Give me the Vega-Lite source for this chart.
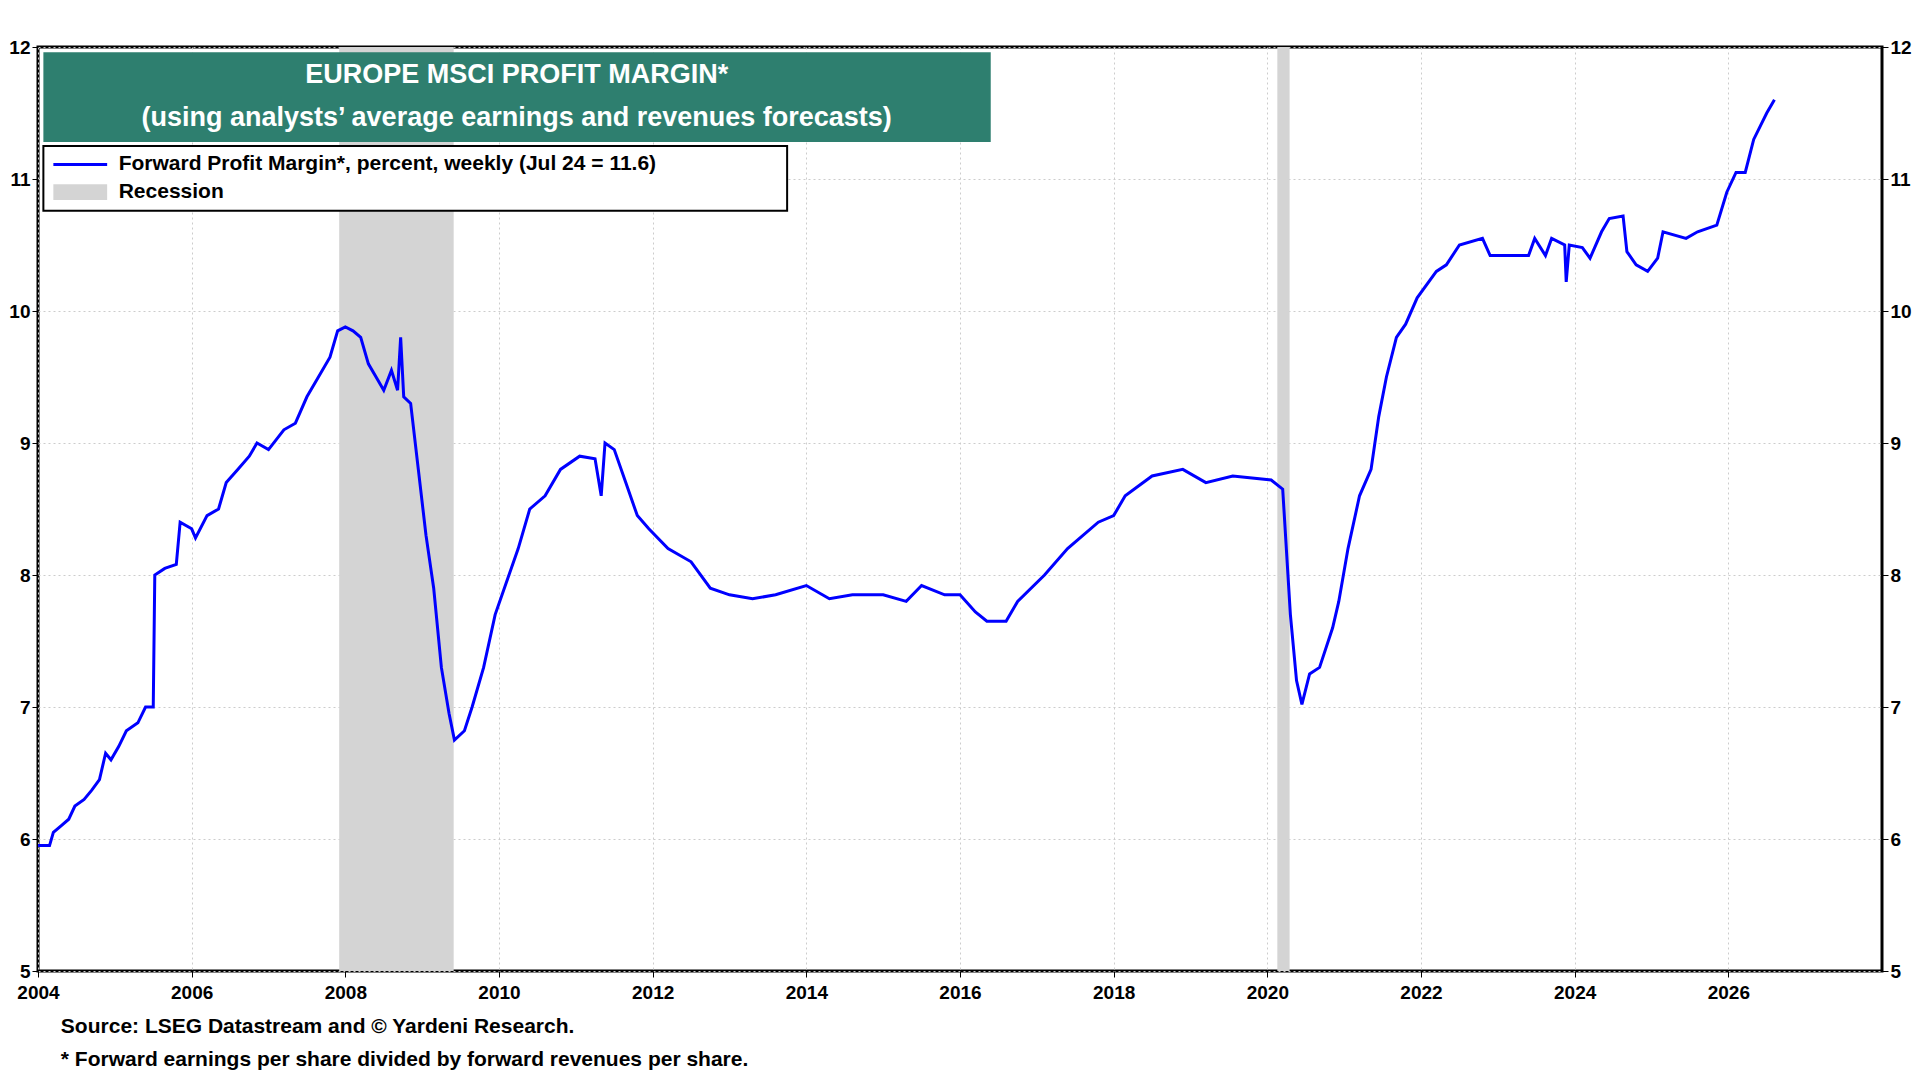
{
  "$schema": "https://vega.github.io/schema/vega-lite/v6.json",
  "width": 1920,
  "height": 1080,
  "autosize": {"type": "fit", "contains": "padding"},
  "padding": {"left": 8, "right": 8, "top": 38, "bottom": 10},
  "background": "#ffffff",
  "config": {
    "font": "Liberation Sans",
    "view": {"stroke": "#000000", "strokeWidth": 3},
    "axis": {"labelFont": "Liberation Sans", "labelFontWeight": "bold", "labelFontSize": 19, "labelColor": "#000", "domain": false, "tickColor": "#000", "tickSize": 6, "labelFlush": false}
  },
  "title": {
    "text": ["Source: LSEG Datastream and © Yardeni Research.", "* Forward earnings per share divided by forward revenues per share."],
    "orient": "bottom", "anchor": "start", "fontSize": 21, "fontWeight": "bold", "color": "#000", "lineHeight": 33, "offset": 14, "dx": 52
  },
  "datasets": {
    "margin": [
      {"year": 2004.0, "v": 5.95}, {"year": 2004.15, "v": 5.95}, {"year": 2004.2, "v": 6.05}, {"year": 2004.3, "v": 6.1}, {"year": 2004.4, "v": 6.15},
      {"year": 2004.48, "v": 6.25}, {"year": 2004.6, "v": 6.3}, {"year": 2004.7, "v": 6.37}, {"year": 2004.8, "v": 6.45}, {"year": 2004.88, "v": 6.65},
      {"year": 2004.95, "v": 6.6}, {"year": 2005.05, "v": 6.7}, {"year": 2005.15, "v": 6.82}, {"year": 2005.3, "v": 6.88}, {"year": 2005.4, "v": 7.0},
      {"year": 2005.5, "v": 7.0}, {"year": 2005.52, "v": 8.0}, {"year": 2005.65, "v": 8.05}, {"year": 2005.8, "v": 8.08}, {"year": 2005.85, "v": 8.4},
      {"year": 2006.0, "v": 8.35}, {"year": 2006.05, "v": 8.28}, {"year": 2006.2, "v": 8.45}, {"year": 2006.35, "v": 8.5}, {"year": 2006.45, "v": 8.7},
      {"year": 2006.6, "v": 8.8}, {"year": 2006.75, "v": 8.9}, {"year": 2006.85, "v": 9.0}, {"year": 2007.0, "v": 8.95}, {"year": 2007.2, "v": 9.1},
      {"year": 2007.35, "v": 9.15}, {"year": 2007.5, "v": 9.35}, {"year": 2007.65, "v": 9.5}, {"year": 2007.8, "v": 9.65}, {"year": 2007.9, "v": 9.85},
      {"year": 2008.0, "v": 9.88}, {"year": 2008.1, "v": 9.85}, {"year": 2008.2, "v": 9.8}, {"year": 2008.3, "v": 9.6}, {"year": 2008.4, "v": 9.5},
      {"year": 2008.5, "v": 9.4}, {"year": 2008.6, "v": 9.55}, {"year": 2008.68, "v": 9.4}, {"year": 2008.72, "v": 9.8}, {"year": 2008.76, "v": 9.35},
      {"year": 2008.85, "v": 9.3}, {"year": 2008.95, "v": 8.8}, {"year": 2009.05, "v": 8.3}, {"year": 2009.15, "v": 7.9}, {"year": 2009.25, "v": 7.3},
      {"year": 2009.35, "v": 6.95}, {"year": 2009.42, "v": 6.75}, {"year": 2009.55, "v": 6.82}, {"year": 2009.65, "v": 7.0}, {"year": 2009.8, "v": 7.3},
      {"year": 2009.95, "v": 7.7}, {"year": 2010.1, "v": 7.95}, {"year": 2010.25, "v": 8.2}, {"year": 2010.4, "v": 8.5}, {"year": 2010.6, "v": 8.6},
      {"year": 2010.8, "v": 8.8}, {"year": 2011.05, "v": 8.9}, {"year": 2011.25, "v": 8.88}, {"year": 2011.33, "v": 8.6}, {"year": 2011.38, "v": 9.0},
      {"year": 2011.5, "v": 8.95}, {"year": 2011.65, "v": 8.7}, {"year": 2011.8, "v": 8.45}, {"year": 2011.95, "v": 8.35}, {"year": 2012.2, "v": 8.2},
      {"year": 2012.5, "v": 8.1}, {"year": 2012.75, "v": 7.9}, {"year": 2013.0, "v": 7.85}, {"year": 2013.3, "v": 7.82}, {"year": 2013.6, "v": 7.85},
      {"year": 2014.0, "v": 7.92}, {"year": 2014.3, "v": 7.82}, {"year": 2014.6, "v": 7.85}, {"year": 2015.0, "v": 7.85}, {"year": 2015.3, "v": 7.8},
      {"year": 2015.5, "v": 7.92}, {"year": 2015.8, "v": 7.85}, {"year": 2016.0, "v": 7.85}, {"year": 2016.2, "v": 7.72}, {"year": 2016.35, "v": 7.65},
      {"year": 2016.6, "v": 7.65}, {"year": 2016.75, "v": 7.8}, {"year": 2017.1, "v": 8.0}, {"year": 2017.4, "v": 8.2}, {"year": 2017.8, "v": 8.4},
      {"year": 2018.0, "v": 8.45}, {"year": 2018.15, "v": 8.6}, {"year": 2018.5, "v": 8.75}, {"year": 2018.9, "v": 8.8}, {"year": 2019.2, "v": 8.7},
      {"year": 2019.55, "v": 8.75}, {"year": 2020.05, "v": 8.72}, {"year": 2020.2, "v": 8.65}, {"year": 2020.3, "v": 7.7}, {"year": 2020.38, "v": 7.2},
      {"year": 2020.45, "v": 7.02}, {"year": 2020.55, "v": 7.25}, {"year": 2020.68, "v": 7.3}, {"year": 2020.85, "v": 7.6}, {"year": 2020.93, "v": 7.8},
      {"year": 2021.05, "v": 8.2}, {"year": 2021.2, "v": 8.6}, {"year": 2021.35, "v": 8.8}, {"year": 2021.45, "v": 9.2}, {"year": 2021.55, "v": 9.5},
      {"year": 2021.68, "v": 9.8}, {"year": 2021.8, "v": 9.9}, {"year": 2021.95, "v": 10.1}, {"year": 2022.2, "v": 10.3}, {"year": 2022.33, "v": 10.35},
      {"year": 2022.5, "v": 10.5}, {"year": 2022.8, "v": 10.55}, {"year": 2022.9, "v": 10.42}, {"year": 2023.4, "v": 10.42}, {"year": 2023.48, "v": 10.55},
      {"year": 2023.62, "v": 10.42}, {"year": 2023.7, "v": 10.55}, {"year": 2023.87, "v": 10.5}, {"year": 2023.89, "v": 10.22}, {"year": 2023.93, "v": 10.5},
      {"year": 2024.1, "v": 10.48}, {"year": 2024.2, "v": 10.4}, {"year": 2024.35, "v": 10.6}, {"year": 2024.45, "v": 10.7}, {"year": 2024.63, "v": 10.72},
      {"year": 2024.68, "v": 10.45}, {"year": 2024.8, "v": 10.35}, {"year": 2024.95, "v": 10.3}, {"year": 2025.08, "v": 10.4}, {"year": 2025.15, "v": 10.6},
      {"year": 2025.45, "v": 10.55}, {"year": 2025.6, "v": 10.6}, {"year": 2025.85, "v": 10.65}, {"year": 2025.98, "v": 10.9}, {"year": 2026.1, "v": 11.05},
      {"year": 2026.22, "v": 11.05}, {"year": 2026.33, "v": 11.3}, {"year": 2026.5, "v": 11.5}, {"year": 2026.6, "v": 11.6}
    ],
    "recessions": [
      {"start": 2007.92, "end": 2009.41},
      {"start": 2020.13, "end": 2020.29}
    ]
  },
  "layer": [
    {
      "layer": [
        {
          "data": {"name": "recessions"},
          "mark": {"type": "rect", "color": "#d4d4d4"},
          "encoding": {
            "x": {"field": "start", "type": "quantitative", "scale": {"domain": [2004, 2028], "nice": false, "zero": false},
              "axis": {"values": [2004, 2006, 2008, 2010, 2012, 2014, 2016, 2018, 2020, 2022, 2024, 2026], "format": "d", "title": null, "grid": true, "gridColor": "#cccccc", "gridDash": [2, 3], "labelPadding": 6}},
            "x2": {"field": "end"},
            "y": {"datum": 5, "type": "quantitative", "scale": {"domain": [5, 12], "nice": false, "zero": false},
              "axis": {"values": [5, 6, 7, 8, 9, 10, 11, 12], "format": "d", "title": null, "grid": true, "gridColor": "#cccccc", "gridDash": [2, 3]}},
            "y2": {"datum": 12}
          }
        },
        {
          "data": {"name": "margin"},
          "mark": {"type": "line", "color": "#0000ff", "strokeWidth": 3},
          "encoding": {
            "x": {"field": "year", "type": "quantitative"},
            "y": {"field": "v", "type": "quantitative"}
          }
        },
        {
          "data": {"values": [{"x": 2004.07, "x2": 2016.4, "y": 11.96, "y2": 11.28}]},
          "mark": {"type": "rect", "color": "#2e7f6f"},
          "encoding": {"x": {"field": "x", "type": "quantitative"}, "x2": {"field": "x2"}, "y": {"field": "y", "type": "quantitative"}, "y2": {"field": "y2"}}
        },
        {
          "data": {"values": [{"x": 2010.23, "y": 11.79, "t": "EUROPE MSCI PROFIT MARGIN*"}, {"x": 2010.23, "y": 11.46, "t": "(using analysts’ average earnings and revenues forecasts)"}]},
          "mark": {"type": "text", "color": "#ffffff", "fontSize": 27, "fontWeight": "bold", "align": "center", "baseline": "middle"},
          "encoding": {"x": {"field": "x", "type": "quantitative"}, "y": {"field": "y", "type": "quantitative"}, "text": {"field": "t"}}
        },
        {
          "data": {"values": [{"x": 2004.07, "x2": 2013.75, "y": 11.25, "y2": 10.76}]},
          "mark": {"type": "rect", "fill": "#ffffff", "stroke": "#000000", "strokeWidth": 2},
          "encoding": {"x": {"field": "x", "type": "quantitative"}, "x2": {"field": "x2"}, "y": {"field": "y", "type": "quantitative"}, "y2": {"field": "y2"}}
        },
        {
          "data": {"values": [{"x": 2004.2, "x2": 2004.9, "y": 11.11}]},
          "mark": {"type": "rule", "color": "#0000ff", "strokeWidth": 3},
          "encoding": {"x": {"field": "x", "type": "quantitative"}, "x2": {"field": "x2"}, "y": {"field": "y", "type": "quantitative"}}
        },
        {
          "data": {"values": [{"x": 2004.2, "x2": 2004.9, "y": 10.96, "y2": 10.84}]},
          "mark": {"type": "rect", "color": "#d4d4d4"},
          "encoding": {"x": {"field": "x", "type": "quantitative"}, "x2": {"field": "x2"}, "y": {"field": "y", "type": "quantitative"}, "y2": {"field": "y2"}}
        },
        {
          "data": {"values": [{"x": 2005.05, "y": 11.11, "t": "Forward Profit Margin*, percent, weekly (Jul 24 = 11.6)"}, {"x": 2005.05, "y": 10.9, "t": "Recession"}]},
          "mark": {"type": "text", "color": "#000000", "fontSize": 21, "fontWeight": "bold", "align": "left", "baseline": "middle"},
          "encoding": {"x": {"field": "x", "type": "quantitative"}, "y": {"field": "y", "type": "quantitative"}, "text": {"field": "t"}}
        }
      ]
    },
    {
      "data": {"values": [{"v": 5}, {"v": 12}]},
      "mark": {"type": "rule", "opacity": 0},
      "encoding": {
        "y": {"field": "v", "type": "quantitative", "scale": {"domain": [5, 12], "nice": false, "zero": false},
          "axis": {"orient": "right", "values": [5, 6, 7, 8, 9, 10, 11, 12], "format": "d", "title": null, "grid": false}}
      }
    }
  ],
  "resolve": {"scale": {"y": "independent"}, "axis": {"y": "independent"}}
}
